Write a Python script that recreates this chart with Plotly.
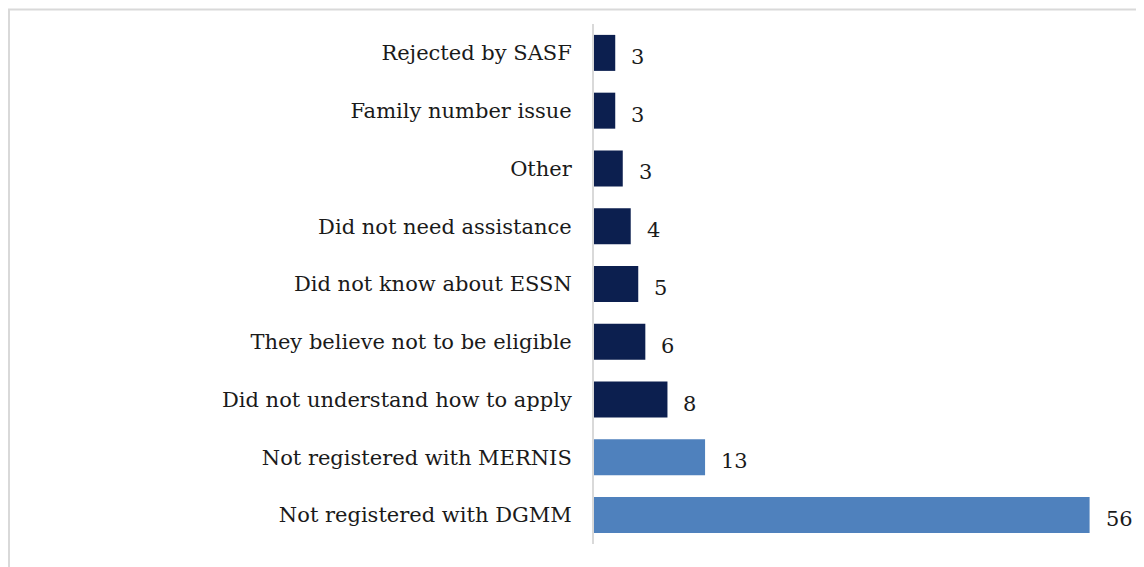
import plotly.graph_objects as go

categories = ["Rejected by SASF", "Family number issue", "Other", "Did not need assistance",
              "Did not know about ESSN", "They believe not to be eligible",
              "Did not understand how to apply", "Not registered with MERNIS",
              "Not registered with DGMM"]
values = [2.4, 2.4, 3.25, 4.15, 5.0, 5.8, 8.3, 12.55, 56.0]
labels = ["3", "3", "3", "4", "5", "6", "8", "13", "56"]
dark = "#0c1f4f"
light = "#4f81bd"
colors = [dark] * 7 + [light] * 2

FONT = "DejaVu Serif"

fig = go.Figure()
fig.add_trace(go.Bar(
    x=values, y=categories, orientation="h",
    marker=dict(color=colors, line=dict(width=0)),
    hoverinfo="skip",
))
for v, c, t in zip(values, categories, labels):
    fig.add_annotation(x=v, y=c, text=t, showarrow=False, xanchor="left",
                       xshift=14, yshift=-4,
                       font=dict(family=FONT, size=21, color="#1a1a1a"))

fig.add_shape(type="rect", xref="paper", yref="paper",
              x0=-1.1017, x1=1.08, y0=-0.1, y1=1.028,
              line=dict(color="#d9d9d9", width=2), fillcolor="rgba(0,0,0,0)", layer="below")

fig.update_layout(
    width=1144, height=567,
    margin=dict(l=586, r=27, t=16, b=31),
    paper_bgcolor="white", plot_bgcolor="white",
    bargap=0.377,
    showlegend=False,
    font=dict(family=FONT, size=21, color="#1a1a1a"),
)
fig.update_xaxes(range=[0, 60], visible=False, showgrid=False, zeroline=False)
fig.update_yaxes(autorange="reversed", showline=True, linecolor="#d9d9d9", linewidth=2,
                 showgrid=False, ticks="", ticklabelstandoff=16,
                 tickfont=dict(family=FONT, size=21, color="#1a1a1a"))

fig.write_html("out.html")
